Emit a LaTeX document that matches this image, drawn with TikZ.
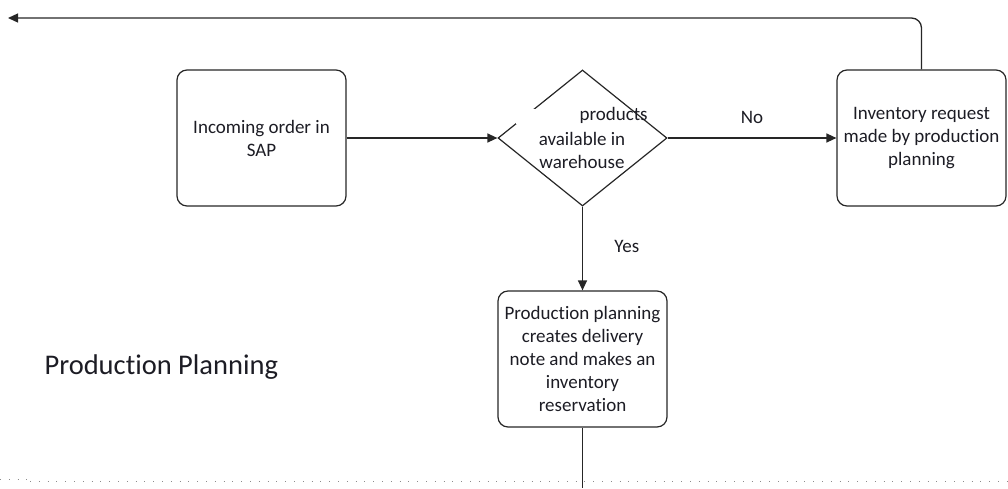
\documentclass[tikz,border=0pt]{standalone}
\usepackage{fontspec}
\setmainfont{Carlito}[Ligatures=NoCommon]
\usetikzlibrary{arrows.meta,shapes.geometric}
\definecolor{ink}{HTML}{1C1C24}
\tikzset{
  boxfont/.style={font=\fontsize{19}{23}\selectfont, text=ink},
  procbox/.style={draw=black!85, line width=1.2pt, rounded corners=10pt,
    minimum width=169pt, minimum height=136pt, align=center, inner sep=0pt,
    boxfont},
  decision/.style={draw=black!85, line width=1.2pt, diamond, aspect=1.2426,
    minimum width=169pt, minimum height=136pt, inner sep=0pt, align=center,
    boxfont},
  flow/.style={draw=black!85, line width=1.3pt, -{Triangle[length=10pt,width=9pt]}},
  plain/.style={draw=black!85, line width=1.3pt},
  lbl/.style={font=\fontsize{19}{23}\selectfont, text=ink},
  lane/.style={draw=black!45, line width=1pt, dash pattern=on 1pt off 7.8pt}
}
\begin{document}
\begin{tikzpicture}[x=1pt,y=-1pt]
\useasboundingbox (0,0) rectangle (1008,488);

% swimlane boundary
\draw[lane] (0,479) -- (30,479);
\draw[lane] (30,481) -- (1008,481);

% lane title
\node[anchor=west, font=\fontsize{28.5}{32}\selectfont, text=ink] (lanetitle) at (41,367) {Production Planning};

% process steps
\node[procbox] (order) at (261.5,138) {Incoming order in\\SAP};
\node[decision] (check) at (582.5,138) {};
\node[procbox] (request) at (921.5,138) {Inventory request\\made by production\\planning};
\node[procbox] (reserve) at (582.5,359) {Production planning\\creates delivery\\note and makes an\\inventory\\reservation};

% decision text, with the masked area over its upper left
\fill[white] (516,109) rectangle (572,124);
\node[boxfont, anchor=west] (q1) at (576,115) {products};
\node[boxfont, align=center] (q2) at (582,150) {available in\\warehouse};

% connectors
\draw[flow] (order.east) -- (check.west);
\draw[flow] (check.east) -- node[lbl, above=10pt] (no) {No} (request.west);
\draw[flow] (check.south) -- node[lbl, right=28pt, pos=0.48] (yes) {Yes} (reserve.north);
\coordinate (exitdown) at (582.5,488);
\draw[plain] (reserve.south) -- (exitdown);
\coordinate (exitleft) at (8,18);
\draw[flow, rounded corners=10pt] (request.north) |- (exitleft);
\end{tikzpicture}
\end{document}
